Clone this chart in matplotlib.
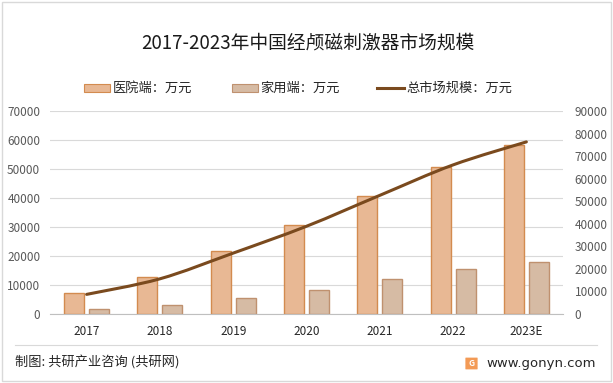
import matplotlib
matplotlib.use("Agg")
import matplotlib.pyplot as plt
from matplotlib.path import Path
from matplotlib.patches import PathPatch, Rectangle, FancyBboxPatch
from matplotlib.lines import Line2D

plt.rcParams['font.family'] = ['Noto Sans CJK SC', 'DejaVu Sans']

# data (万元)
years = ['2017', '2018', '2019', '2020', '2021', '2022', '2023E']
hospital = [7100, 12600, 21600, 30600, 40600, 50700, 58400]
home = [1600, 3000, 5400, 8300, 12000, 15400, 17900]
total = [8700, 15600, 27000, 38900, 52600, 66100, 76300]

c_hosp, c_hosp_edge = '#E8B894', '#D38B4F'
c_home, c_home_edge = '#D6BBA4', '#BF916F'
c_line = '#7A4A1E'

fig = plt.figure(figsize=(6.13, 3.83), dpi=100)
W, H = 613, 383

ax = fig.add_axes([50 / W, (H - 314) / H, 513 / W, 203 / H])
ax2 = ax.twinx()

x = list(range(len(years)))
bw = 0.273
ax.bar([i - 0.17 for i in x], hospital, width=bw, color=c_hosp,
       edgecolor=c_hosp_edge, linewidth=1.0, zorder=2)
ax.bar([i + 0.17 for i in x], home, width=bw, color=c_home,
       edgecolor=c_home_edge, linewidth=1.0, zorder=2)

ax.set_xlim(-0.5, len(years) - 0.5)
ax.set_ylim(0, 70000)
ax.set_yticks(range(0, 70001, 10000))
ax.set_xticks(x)
ax.set_xticklabels(years)
ax.grid(axis='y', color='#D9D9D9', linewidth=0.8, zorder=0)
ax.set_axisbelow(True)
for s in ['top', 'left', 'right']:
    ax.spines[s].set_visible(False)
ax.spines['bottom'].set_color('#BFBFBF')
ax.tick_params(axis='both', length=0, labelsize=8.5)
ax.tick_params(axis='y', colors='#595959', pad=7)
ax.tick_params(axis='x', colors='#262626', pad=8)

# smoothed total line (Catmull-Rom style bezier, like Excel's smooth line)
pts = list(zip(x, total))
verts = [pts[0]]
codes = [Path.MOVETO]
for i in range(len(pts) - 1):
    p0 = pts[i - 1] if i > 0 else pts[i]
    p1 = pts[i]
    p2 = pts[i + 1]
    p3 = pts[i + 2] if i + 2 < len(pts) else pts[i + 1]
    c1 = (p1[0] + (p2[0] - p0[0]) / 6, p1[1] + (p2[1] - p0[1]) / 6)
    c2 = (p2[0] - (p3[0] - p1[0]) / 6, p2[1] - (p3[1] - p1[1]) / 6)
    verts += [c1, c2, p2]
    codes += [Path.CURVE4] * 3
ax2.add_patch(PathPatch(Path(verts, codes), facecolor='none',
                        edgecolor=c_line, linewidth=2.2, capstyle='round', zorder=3))
ax2.set_ylim(0, 90000)
ax2.set_yticks(range(0, 90001, 10000))
for s in ['top', 'left', 'right', 'bottom']:
    ax2.spines[s].set_visible(False)
ax2.tick_params(axis='y', length=0, labelsize=8.5, colors='#595959', pad=8.5)

# title
fig.text(308 / W, 1 - 43 / H, '2017-2023年中国经颅磁刺激器市场规模',
         ha='center', va='center', fontsize=13.5, color='#1A1A1A')

# legend
ly = 1 - 88 / H
fig.patches.append(Rectangle((84 / W, ly - 4 / H), 26 / W, 8 / H, transform=fig.transFigure,
                             facecolor=c_hosp, edgecolor=c_hosp_edge, linewidth=0.8))
fig.text(113 / W, ly, '医院端：万元', ha='left', va='center', fontsize=9.5, color='#262626')
fig.patches.append(Rectangle((232 / W, ly - 4 / H), 26 / W, 8 / H, transform=fig.transFigure,
                             facecolor=c_home, edgecolor=c_home_edge, linewidth=0.8))
fig.text(260 / W, ly, '家用端：万元', ha='left', va='center', fontsize=9.5, color='#262626')
fig.lines.append(Line2D([377 / W, 404 / W], [ly, ly], transform=fig.transFigure,
                        color=c_line, linewidth=2.2))
fig.text(406 / W, ly, '总市场规模：万元', ha='left', va='center', fontsize=9.5, color='#262626')

# footer
fig.lines.append(Line2D([15 / W, 597 / W], [1 - 345 / H, 1 - 345 / H],
                        transform=fig.transFigure, color='#D9D9D9', linewidth=0.8))
fig.text(15 / W, 1 - 363 / H, '制图: 共研产业咨询 (共研网)', ha='left', va='center',
         fontsize=9.5, color='#262626')
fig.patches.append(FancyBboxPatch((466 / W, 1 - 369 / H), 11 / W, 11 / H,
                                  boxstyle='round,pad=0.001', transform=fig.transFigure,
                                  facecolor='#F39A55', edgecolor='none'))
fig.text(471.5 / W, 1 - 363.5 / H, 'G', ha='center', va='center', fontsize=6,
         color='white', fontweight='bold')
fig.text(596 / W, 1 - 363 / H, 'www.gonyn.com', ha='right', va='center',
         fontsize=9.5, color='#262626', family=['DejaVu Sans'])

# outer frame
fig.patches.append(Rectangle((2 / W, 2 / H), 609 / W, 379 / H, transform=fig.transFigure,
                             facecolor='none', edgecolor='#D9D9D9', linewidth=1.0))

fig.savefig('out.png', dpi=100)
